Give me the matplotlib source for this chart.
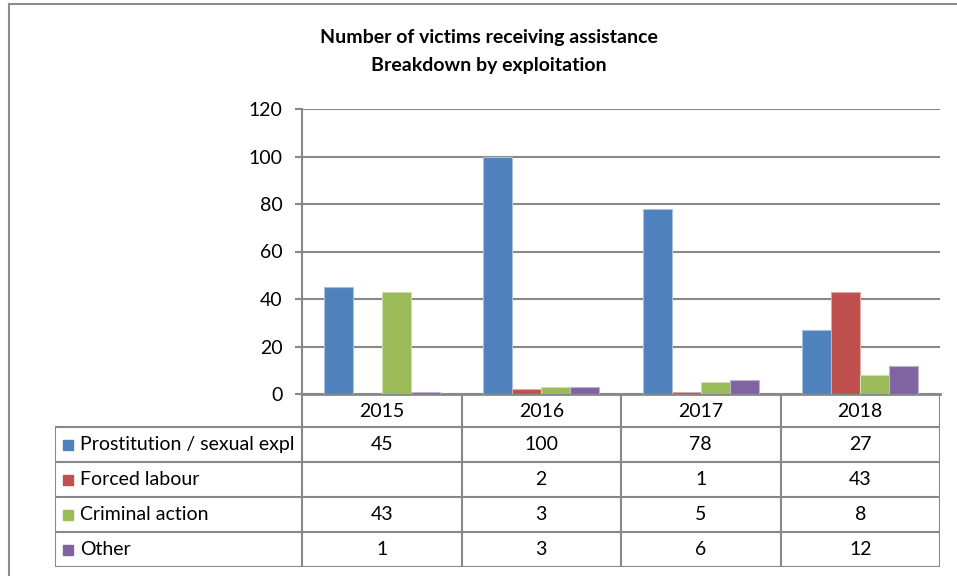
import matplotlib.pyplot as plt
from matplotlib.lines import Line2D
from matplotlib.patches import Rectangle

plt.rcParams['font.family'] = ['Lato', 'DejaVu Sans']

YEARS = ['2015', '2016', '2017', '2018']
SERIES = ['Prostitution / sexual expl', 'Forced labour', 'Criminal action', 'Other']
PROSTITUTION = [45, 100, 78, 27]
FORCED_LABOUR = [None, 2, 1, 43]
CRIMINAL_ACTION = [43, 3, 5, 8]
OTHER = [1, 3, 6, 12]
VALUES = [PROSTITUTION, FORCED_LABOUR, CRIMINAL_ACTION, OTHER]

COLORS = ['#4F81BD', '#C0504D', '#9BBB59', '#8064A2']
EDGES = ['#A7C0DE', '#DFA8A6', '#CDDDAC', '#BFB1D0']
GRID = '#888888'

W, H = 957, 576
fig = plt.figure(figsize=(W / 100, H / 100), dpi=100)


def px(x0, y0, x1, y1):
    # pixel box (top-left origin) -> figure fraction rect
    return [x0 / W, 1 - y1 / H, (x1 - x0) / W, (y1 - y0) / H]


# outer chart frame (only left and top edges visible)
fig.add_artist(Line2D([9 / W, 9 / W], [0, 1 - 4 / H], transform=fig.transFigure,
                      color='#8c8c8c', lw=1.5))
fig.add_artist(Line2D([9 / W, 1], [1 - 4 / H, 1 - 4 / H], transform=fig.transFigure,
                      color='#8c8c8c', lw=1.5))

fig.text(489 / W, 1 - 38 / H, 'Number of victims receiving assistance',
         ha='center', va='center', fontsize=14, fontweight='bold')
fig.text(489 / W, 1 - 65 / H, 'Breakdown by exploitation',
         ha='center', va='center', fontsize=14, fontweight='bold')

# bar chart
ax = fig.add_axes(px(302, 109, 940, 394))
n = len(SERIES)
bw = 0.182
for j, (vals, c, ec) in enumerate(zip(VALUES, COLORS, EDGES)):
    xs = [i + (j - (n - 1) / 2) * bw for i in range(len(YEARS))]
    hs = [v if v is not None else 0 for v in vals]
    ax.bar(xs, hs, width=bw, color=c, edgecolor=ec, linewidth=0.8, zorder=3)

ax.set_xlim(-0.5, len(YEARS) - 0.5)
ax.set_ylim(0, 120)
ax.set_yticks(range(0, 121, 20))
ax.yaxis.grid(True, color=GRID, lw=1.5, zorder=0)
ax.set_axisbelow(True)
ax.set_xticks([])
for s in ['top', 'right']:
    ax.spines[s].set_visible(False)
ax.spines['left'].set_color(GRID)
ax.spines['left'].set_linewidth(1.5)
ax.spines['bottom'].set_color(GRID)
ax.spines['bottom'].set_linewidth(2)
ax.tick_params(axis='y', length=5, width=1.5, color=GRID, labelsize=14, pad=9)

# data table below the plot
label_units = (302 - 55) / ((940 - 302) / len(YEARS))
tx = fig.add_axes(px(55, 394, 940, 567))
tx.set_xlim(-0.5 - label_units, len(YEARS) - 0.5)
tx.set_ylim(173, 0)
tx.axis('off')

row_edges = [0, 33, 68, 103, 138, 173]
lk = dict(color=GRID, lw=1.5, solid_capstyle='projecting')
x_left = -0.5 - label_units
for k in range(len(YEARS) + 1):
    tx.plot([k - 0.5, k - 0.5], [0, row_edges[-1]], **lk)
tx.plot([x_left, x_left], [row_edges[1], row_edges[-1]], **lk)
for y in row_edges[1:]:
    tx.plot([x_left, len(YEARS) - 0.5], [y, y], **lk)

for i, yr in enumerate(YEARS):
    tx.text(i, (row_edges[0] + row_edges[1]) / 2 + 1, yr, ha='center', va='center', fontsize=14)

key = 10 / ((940 - 302) / len(YEARS))
for j, (name, vals, c) in enumerate(zip(SERIES, VALUES, COLORS)):
    yc = (row_edges[j + 1] + row_edges[j + 2]) / 2
    tx.add_patch(Rectangle((x_left + 8 / 159.5, yc - 5), key, 10, color=c))
    tx.text(x_left + 25 / 159.5, yc, name, ha='left', va='center', fontsize=14)
    for i, v in enumerate(vals):
        if v is not None:
            tx.text(i, yc, str(v), ha='center', va='center', fontsize=14)

fig.savefig('out.png', dpi=100)
